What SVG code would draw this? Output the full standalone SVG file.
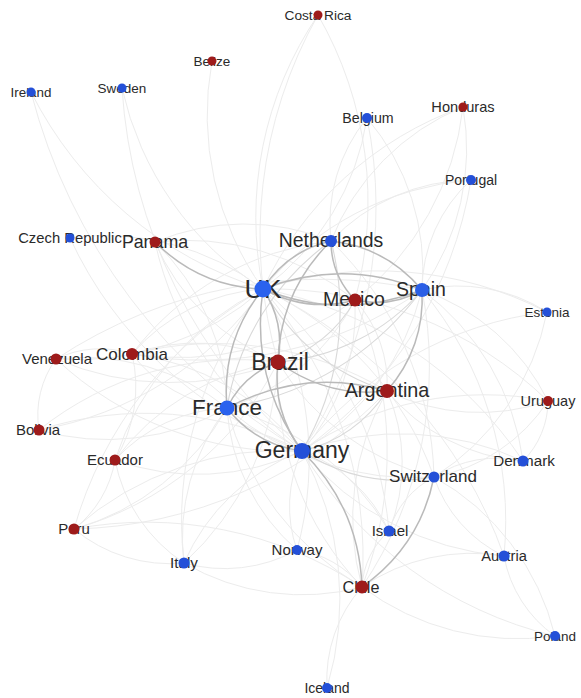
<svg xmlns="http://www.w3.org/2000/svg" width="581" height="698" viewBox="0 0 581 698">
<style>
path{fill:none}
.f{stroke:#ececec;stroke-width:1}
.m{stroke:#d9d9d9;stroke-width:1.1}
.s{stroke:#bababa;stroke-width:1.5}
text{font-family:"Liberation Sans",Arial,sans-serif;fill:#2a2a2a;text-anchor:middle}
.r{fill:#9e1b1b}
.b{fill:#2450d8}
</style>
<rect width="581" height="698" fill="#ffffff"/>
<g id="connectors">
<g class="f">
<path d="M263 289A360 360 0 0 1 318 15"/>
<path d="M263 289A300 300 0 0 1 212 61"/>
<path d="M263 289A390 390 0 0 1 31 92"/>
<path d="M263 289A320 320 0 0 1 122 88"/>
<path d="M263 289A260 260 0 0 0 367 118"/>
<path d="M263 289A350 350 0 0 1 463 107"/>
<path d="M263 289A300 300 0 0 1 471 180"/>
<path d="M263 289A260 260 0 0 0 70 238"/>
<path d="M263 289A190 190 0 0 0 132 354"/>
<path d="M263 289A280 280 0 0 1 56 359"/>
<path d="M263 289A290 290 0 0 0 115 460"/>
<path d="M263 289A400 400 0 0 0 74 529"/>
<path d="M263 289A345 345 0 0 1 39 430"/>
<path d="M263 289A370 370 0 0 0 184 563"/>
<path d="M263 289A340 340 0 0 1 297 550"/>
<path d="M263 289A355 355 0 0 1 389 531"/>
<path d="M263 289A330 330 0 0 1 434 477"/>
<path d="M263 289A410 410 0 0 1 362 587"/>
<path d="M263 289A370 370 0 0 1 547 312"/>
<path d="M263 289A400 400 0 0 1 548 401"/>
<path d="M263 289A405 405 0 0 1 523 461"/>
<path d="M263 289A470 470 0 0 1 504 556"/>
<path d="M302 451A440 440 0 0 0 367 118"/>
<path d="M302 451A415 415 0 0 0 471 180"/>
<path d="M302 451A585 585 0 0 1 31 92"/>
<path d="M302 451A525 525 0 0 1 122 88"/>
<path d="M302 451A410 410 0 0 1 70 238"/>
<path d="M302 451A330 330 0 0 1 155 242"/>
<path d="M302 451A255 255 0 0 0 132 354"/>
<path d="M302 451A340 340 0 0 1 56 359"/>
<path d="M302 451A345 345 0 0 0 39 430"/>
<path d="M302 451A245 245 0 0 1 115 460"/>
<path d="M302 451A315 315 0 0 0 74 529"/>
<path d="M302 451A210 210 0 0 0 184 563"/>
<path d="M302 451A130 130 0 0 0 297 550"/>
<path d="M302 451A155 155 0 0 1 389 531"/>
<path d="M302 451A295 295 0 0 0 504 556"/>
<path d="M302 451A290 290 0 0 1 523 461"/>
<path d="M302 451A325 325 0 0 1 548 401"/>
<path d="M302 451A365 365 0 0 1 547 312"/>
<path d="M302 451A405 405 0 0 0 555 636"/>
<path d="M302 451A310 310 0 0 1 327 688"/>
<path d="M302 451A210 210 0 0 0 355 300"/>
<path d="M302 451A260 260 0 0 0 422 290"/>
<path d="M227 408A235 235 0 0 0 155 242"/>
<path d="M227 408A140 140 0 0 1 132 354"/>
<path d="M227 408A230 230 0 0 0 56 359"/>
<path d="M227 408A245 245 0 0 1 39 430"/>
<path d="M227 408A160 160 0 0 0 115 460"/>
<path d="M227 408A255 255 0 0 1 74 529"/>
<path d="M227 408A210 210 0 0 0 184 563"/>
<path d="M227 408A205 205 0 0 0 297 550"/>
<path d="M227 408A290 290 0 0 0 362 587"/>
<path d="M227 408A220 220 0 0 0 355 300"/>
<path d="M227 408A285 285 0 0 0 434 477"/>
<path d="M227 408A265 265 0 0 1 389 531"/>
<path d="M422 290A245 245 0 0 0 463 107"/>
<path d="M422 290A150 150 0 0 1 471 180"/>
<path d="M422 290A235 235 0 0 0 367 118"/>
<path d="M422 290A395 395 0 0 1 362 587"/>
<path d="M422 290A220 220 0 0 1 548 401"/>
<path d="M422 290A165 165 0 0 1 547 312"/>
<path d="M422 290A255 255 0 0 1 523 461"/>
<path d="M422 290A360 360 0 0 1 504 556"/>
<path d="M422 290A480 480 0 0 0 56 359"/>
<path d="M422 290A385 385 0 0 1 132 354"/>
<path d="M278 362A225 225 0 0 1 155 242"/>
<path d="M278 362A190 190 0 0 0 132 354"/>
<path d="M278 362A290 290 0 0 1 56 359"/>
<path d="M278 362A250 250 0 0 0 115 460"/>
<path d="M278 362A330 330 0 0 1 74 529"/>
<path d="M278 362A320 320 0 0 0 39 430"/>
<path d="M278 362A305 305 0 0 0 362 587"/>
<path d="M278 362A290 290 0 0 1 184 563"/>
<path d="M278 362A255 255 0 0 0 434 477"/>
<path d="M278 362A450 450 0 0 1 318 15"/>
<path d="M387 391A210 210 0 0 0 548 401"/>
<path d="M387 391A255 255 0 0 0 362 587"/>
<path d="M387 391A125 125 0 0 0 355 300"/>
<path d="M387 391A445 445 0 0 1 74 529"/>
<path d="M387 391A335 335 0 0 0 132 354"/>
<path d="M387 391A180 180 0 0 1 389 531"/>
<path d="M387 391A195 195 0 0 0 523 461"/>
<path d="M331 241A165 165 0 0 1 367 118"/>
<path d="M331 241A195 195 0 0 1 471 180"/>
<path d="M331 241A290 290 0 0 0 132 354"/>
<path d="M331 241A230 230 0 0 0 155 242"/>
<path d="M331 241A340 340 0 0 1 434 477"/>
<path d="M331 241A240 240 0 0 1 463 107"/>
<path d="M355 300A300 300 0 0 1 132 354"/>
<path d="M355 300A270 270 0 0 0 155 242"/>
<path d="M355 300A375 375 0 0 1 362 587"/>
<path d="M355 300A285 285 0 0 0 463 107"/>
<path d="M355 300A375 375 0 0 0 318 15"/>
<path d="M362 587A140 140 0 0 0 327 688"/>
<path d="M362 587A260 260 0 0 0 555 636"/>
<path d="M362 587A195 195 0 0 1 504 556"/>
<path d="M362 587A80 80 0 0 1 389 531"/>
<path d="M362 587A100 100 0 0 0 297 550"/>
<path d="M362 587A390 390 0 0 0 74 529"/>
<path d="M362 587A235 235 0 0 1 184 563"/>
<path d="M434 477A115 115 0 0 1 523 461"/>
<path d="M434 477A135 135 0 0 0 504 556"/>
<path d="M434 477A250 250 0 0 1 555 636"/>
<path d="M434 477A90 90 0 0 0 389 531"/>
<path d="M434 477A175 175 0 0 0 548 401"/>
<path d="M434 477A255 255 0 0 0 547 312"/>
<path d="M504 556A125 125 0 0 0 555 636"/>
<path d="M184 563A150 150 0 0 0 297 550"/>
<path d="M184 563A150 150 0 0 1 74 529"/>
<path d="M132 354A100 100 0 0 0 56 359"/>
<path d="M132 354A140 140 0 0 1 115 460"/>
<path d="M74 529A110 110 0 0 0 115 460"/>
<path d="M39 430A95 95 0 0 1 56 359"/>
<path d="M184 563A160 160 0 0 1 115 460"/>
<path d="M523 461A85 85 0 0 0 548 401"/>
</g>
<g class="m">
<path d="M302 451Q356 438 387 391"/>
<path d="M263 289Q305 365 387 391"/>
<path d="M227 408Q348 388 422 290"/>
<path d="M302 451Q363 490 434 477"/>
<path d="M302 451A275 275 0 0 0 331 241"/>
<path d="M278 362A130 130 0 0 0 355 300"/>
<path d="M278 362A210 210 0 0 0 422 290"/>
<path d="M227 408A255 255 0 0 1 331 241"/>
</g>
<g class="s">
<path d="M155 242Q200 287 263 289"/>
<path d="M278 362Q285 322 263 289"/>
<path d="M263 289Q221 341 227 408"/>
<path d="M263 289Q250 378 302 451"/>
<path d="M263 289Q342 321 422 290"/>
<path d="M422 290Q343 258 263 289"/>
<path d="M422 290Q386 247 331 241"/>
<path d="M387 391Q425 347 422 290"/>
<path d="M387 391Q304 367 227 408"/>
<path d="M362 587Q359 507 302 451"/>
<path d="M362 587Q420 546 434 477"/>
<path d="M331 241Q280 291 278 362"/>
<path d="M331 241Q287 251 263 289"/>
<path d="M355 300Q391 308 422 290"/>
<path d="M263 289Q307 313 355 300"/>
<path d="M278 362Q272 411 302 451"/>
<path d="M227 408Q256 445 302 451"/>
<path d="M278 362Q243 375 227 408"/>
<path d="M278 362Q327 398 387 391"/>
<path d="M331 241Q331 275 355 300"/>
</g>
</g>
<g id="nodes">
<g id="costa-rica"><text x="318" y="20" font-size="13.7">Costa Rica</text><circle class="r" cx="318" cy="15" r="4.5"/></g>
<g id="belize"><text x="212" y="66" font-size="13.5">Belize</text><circle class="r" cx="212" cy="61" r="4.5"/></g>
<g id="ireland"><text x="31" y="97" font-size="13.4">Ireland</text><circle class="b" cx="31" cy="92" r="4.5"/></g>
<g id="sweden"><text x="122" y="93" font-size="13.5">Sweden</text><circle class="b" cx="122" cy="88" r="4.5"/></g>
<g id="belgium"><text x="368" y="123" font-size="14.2">Belgium</text><circle class="b" cx="367" cy="118" r="5"/></g>
<g id="honduras"><text x="463" y="112" font-size="14.6">Honduras</text><circle class="r" cx="463" cy="107" r="4.5"/></g>
<g id="portugal"><text x="471" y="185" font-size="14">Portugal</text><circle class="b" cx="471" cy="180" r="5"/></g>
<g id="czech-republic"><text x="70" y="243" font-size="14.8">Czech Republic</text><circle class="b" cx="70" cy="238" r="4.5"/></g>
<g id="panama"><text x="155" y="248" font-size="17.8">Panama</text><circle class="r" cx="155" cy="242" r="5.5"/></g>
<g id="netherlands"><text x="331" y="247" font-size="19.4">Netherlands</text><circle class="b" cx="331" cy="241" r="6"/></g>
<g id="uk"><text x="263" y="298" font-size="26.5">UK</text><circle cx="263" cy="289" r="8.5" fill="#2a62ee"/></g>
<g id="mexico"><text x="354" y="306" font-size="19.5">Mexico</text><circle class="r" cx="355" cy="300" r="6.5"/></g>
<g id="spain"><text x="421" y="296" font-size="19.5">Spain</text><circle cx="422" cy="290" r="7" fill="#2a5fe6"/></g>
<g id="estonia"><text x="547" y="317" font-size="13.5">Estonia</text><circle class="b" cx="547" cy="312" r="4.5"/></g>
<g id="venezuela"><text x="57" y="364" font-size="15">Venezuela</text><circle class="r" cx="56" cy="359" r="5.5"/></g>
<g id="colombia"><text x="132" y="360" font-size="17">Colombia</text><circle class="r" cx="132" cy="354" r="6"/></g>
<g id="brazil"><text x="280" y="370" font-size="23">Brazil</text><circle class="r" cx="278" cy="362" r="7.5"/></g>
<g id="argentina"><text x="387" y="397" font-size="19.8">Argentina</text><circle class="r" cx="387" cy="391" r="7"/></g>
<g id="uruguay"><text x="548" y="406" font-size="14.5">Uruguay</text><circle class="r" cx="548" cy="401" r="5"/></g>
<g id="bolivia"><text x="38" y="435" font-size="15">Bolivia</text><circle class="r" cx="39" cy="430" r="5.5"/></g>
<g id="france"><text x="227" y="415" font-size="22.5">France</text><circle cx="227" cy="408" r="7.5" fill="#2a62ee"/></g>
<g id="ecuador"><text x="115" y="465" font-size="15">Ecuador</text><circle class="r" cx="115" cy="460" r="5.5"/></g>
<g id="germany"><text x="302" y="458" font-size="23">Germany</text><circle class="b" cx="302" cy="451" r="8"/></g>
<g id="switzerland"><text x="433" y="482" font-size="17">Switzerland</text><circle class="b" cx="434" cy="477" r="5.5"/></g>
<g id="denmark"><text x="524" y="466" font-size="15.2">Denmark</text><circle class="b" cx="523" cy="461" r="5.5"/></g>
<g id="peru"><text x="74" y="534" font-size="15">Peru</text><circle class="r" cx="74" cy="529" r="5.5"/></g>
<g id="israel"><text x="390" y="536" font-size="15">Israel</text><circle class="b" cx="389" cy="531" r="5.5"/></g>
<g id="norway"><text x="297" y="555" font-size="15">Norway</text><circle class="b" cx="297" cy="550" r="5"/></g>
<g id="italy"><text x="184" y="568" font-size="15.2">Italy</text><circle class="b" cx="184" cy="563" r="5.5"/></g>
<g id="austria"><text x="504" y="561" font-size="14.7">Austria</text><circle class="b" cx="504" cy="556" r="5.5"/></g>
<g id="chile"><text x="361" y="593" font-size="16.2">Chile</text><circle class="r" cx="362" cy="587" r="6.5"/></g>
<g id="poland"><text x="555" y="641" font-size="13.5">Poland</text><circle class="b" cx="555" cy="636" r="5"/></g>
<g id="iceland"><text x="327" y="693" font-size="14">Iceland</text><circle class="b" cx="327" cy="688" r="5"/></g>
</g>
</svg>
